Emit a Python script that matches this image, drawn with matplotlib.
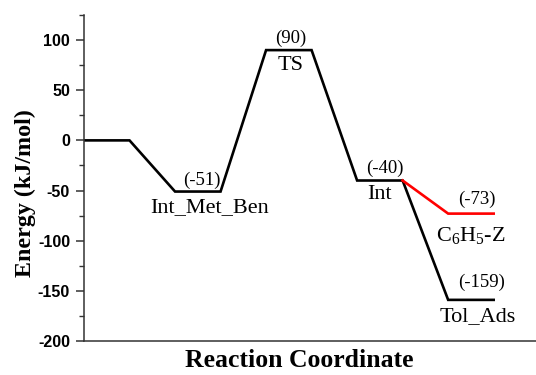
import matplotlib
matplotlib.use("Agg")
import matplotlib.pyplot as plt
from matplotlib.ticker import MultipleLocator

plt.rcParams["axes.unicode_minus"] = False
plt.rcParams["mathtext.fontset"] = "custom"
plt.rcParams["mathtext.rm"] = "Liberation Serif"
plt.rcParams["mathtext.it"] = "Liberation Serif:italic"
plt.rcParams["mathtext.bf"] = "Liberation Serif:bold"

# Data
main_x = [0, 1, 2, 3, 4, 5, 6, 7, 8, 9]
main_e = [0, 0, -51, -51, 90, 90, -40, -40, -159, -159]
red_x = [7, 8, 9]
red_e = [-40, -73, -73]
yticks = [-200, -150, -100, -50, 0, 50, 100]

# energy value labels (text, x, y)
val_labels = [("(-51)", 2.6, -48), ("(90)", 4.55, 93), ("(-40)", 6.6, -36.5),
              ("(-73)", 8.64, -67.5), ("(-159)", 8.74, -150.5)]
name_labels = [("Int_Met_Ben", 2.77, -58), ("TS", 4.53, 84), ("Int", 6.5, -44.5),
               (r"C$_\mathrm{6}$H$_\mathrm{5}$-Z", 8.5, -84), ("Tol_Ads", 8.64, -166)]

fig = plt.figure(figsize=(5.36, 3.75), dpi=100)
ax = fig.add_axes([84/536, 34/375, 452/536, 326/375])

ax.plot(main_x, main_e, color="black", lw=1.9, solid_joinstyle="miter")
ax.plot(red_x, red_e, color="#ff0000", lw=1.9, solid_joinstyle="miter")

serif = ["Liberation Serif", "DejaVu Serif"]
for t, x, y in val_labels:
    ax.text(x, y, t, ha="center", va="bottom", fontsize=13.5, family=serif)
for t, x, y in name_labels:
    ax.text(x, y, t, ha="center", va="top", fontsize=16, family=serif)

ax.set_xlim(0, 9.93)
ax.set_ylim(-200, 125)
ax.set_yticks(yticks)
ax.yaxis.set_minor_locator(MultipleLocator(25))
ax.set_xticks([])
for s in ["top", "right"]:
    ax.spines[s].set_visible(False)
for s in ["left", "bottom"]:
    ax.spines[s].set_color("#333333")
    ax.spines[s].set_linewidth(1.1)
ax.tick_params(axis="y", which="major", length=6, width=1.1, color="#333333", pad=4)
ax.tick_params(axis="y", which="minor", length=3.5, width=1.0, color="#333333")
for lab in ax.get_yticklabels():
    lab.set_family(["Liberation Sans", "DejaVu Sans"])
    lab.set_fontweight("bold")
    lab.set_fontsize(11.5)

ax.set_ylabel("Energy (kJ/mol)", fontsize=17.3, fontweight="bold", family=serif, va="center")
ax.yaxis.set_label_coords(-0.13, 0.454)
ax.set_xlabel("Reaction Coordinate", fontsize=18.5, fontweight="bold", family=serif, va="center")
ax.xaxis.set_label_coords(0.476, -0.061)

fig.savefig("out.png", dpi=100)
